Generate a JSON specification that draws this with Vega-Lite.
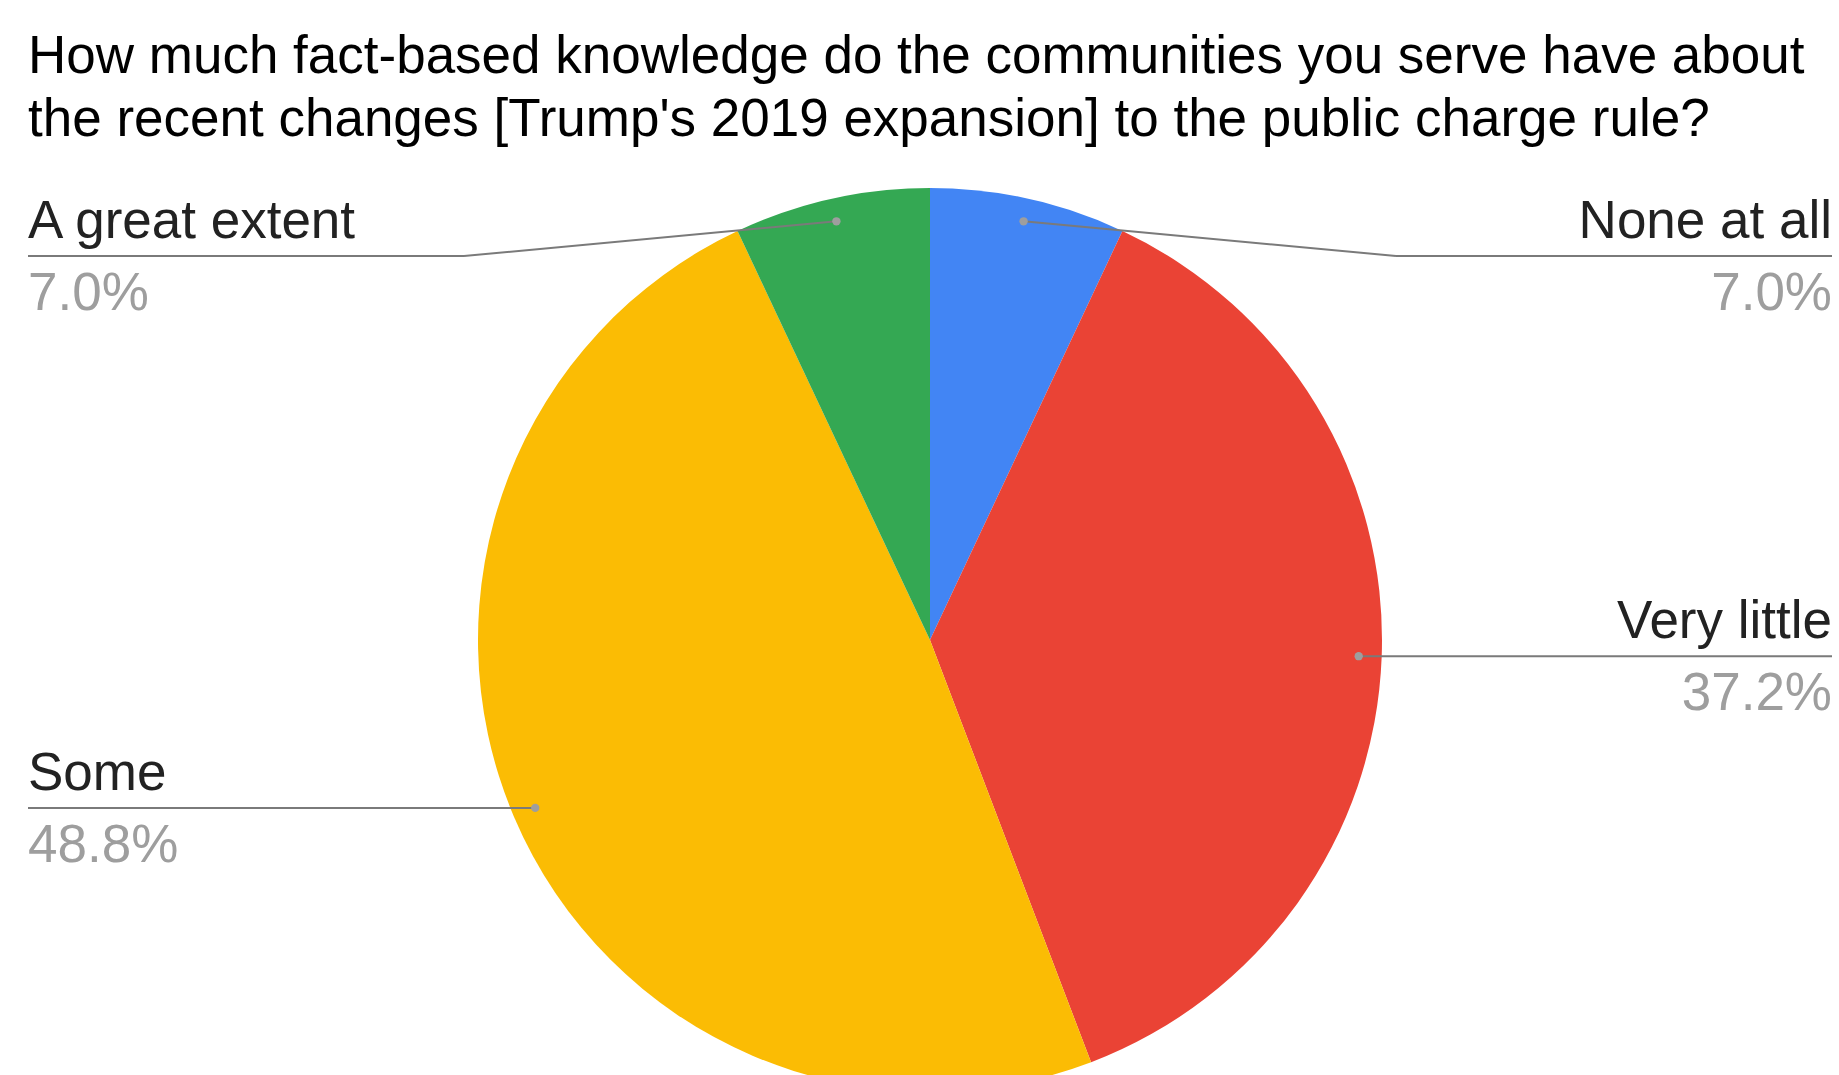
{
  "$schema": "https://vega.github.io/schema/vega-lite/v6.json",
  "width": 1804,
  "height": 980,
  "autosize": {"type": "none"},
  "padding": {"left": 28, "top": 150, "right": 7, "bottom": 0},
  "background": "white",
  "config": {"view": {"stroke": null}, "font": "Liberation Sans"},
  "title": {
    "text": ["How much fact-based knowledge do the communities you serve have about", "the recent changes [Trump's 2019 expansion] to the public charge rule?"],
    "anchor": "start",
    "frame": "group",
    "fontSize": 53,
    "fontWeight": "normal",
    "font": "Liberation Sans",
    "color": "#000000",
    "lineHeight": 63,
    "baseline": "alphabetic",
    "offset": 80,
    "dy": 119
  },
  "data": {
    "values": [
      {"category": "None at all", "value": 7.0},
      {"category": "Very little", "value": 37.2},
      {"category": "Some", "value": 48.8},
      {"category": "A great extent", "value": 7.0}
    ]
  },
  "transform": [
    {"window": [{"op": "row_number", "as": "rank"}]},
    {"joinaggregate": [{"op": "sum", "field": "value", "as": "total"}]},
    {"window": [{"op": "sum", "field": "value", "as": "cum"}], "sort": [{"field": "rank"}], "frame": [null, 0]},
    {"calculate": "2*PI*(datum.cum - datum.value/2)/datum.total", "as": "mid"},
    {"calculate": "429*sin(datum.mid)", "as": "dotX"},
    {"calculate": "-429*cos(datum.mid)", "as": "dotY"},
    {"calculate": "datum.dotX >= 0 ? 1 : -1", "as": "side"},
    {"calculate": "max(datum.dotY, -384)", "as": "lineY"},
    {"calculate": "466*datum.side", "as": "bendX"},
    {"calculate": "902*datum.side", "as": "edgeX"},
    {"calculate": "format(datum.value, '.1f') + '%'", "as": "pct"}
  ],
  "layer": [
    {
      "mark": {"type": "arc", "outerRadius": 452},
      "encoding": {
        "theta": {"field": "value", "type": "quantitative", "stack": true},
        "color": {
          "field": "category",
          "type": "nominal",
          "scale": {"domain": ["None at all", "Very little", "Some", "A great extent"], "range": ["#4285F4", "#EA4335", "#FBBC04", "#34A853"]},
          "legend": null
        },
        "order": {"field": "rank", "type": "quantitative"}
      }
    },
    {
      "mark": {"type": "rule", "color": "#7a7a7a", "strokeWidth": 2},
      "encoding": {
        "x": {"field": "dotX", "type": "quantitative", "scale": {"domain": [-902, 902], "nice": false, "zero": false}, "axis": null},
        "y": {"field": "dotY", "type": "quantitative", "scale": {"domain": [-490, 490], "nice": false, "zero": false, "reverse": true}, "axis": null},
        "x2": {"field": "bendX"},
        "y2": {"field": "lineY"}
      }
    },
    {
      "mark": {"type": "rule", "color": "#7a7a7a", "strokeWidth": 2},
      "encoding": {
        "x": {"field": "bendX", "type": "quantitative"},
        "y": {"field": "lineY", "type": "quantitative"},
        "x2": {"field": "edgeX"}
      }
    },
    {
      "mark": {"type": "point", "filled": true, "size": 70, "color": "#9e9e9e", "opacity": 1},
      "encoding": {
        "x": {"field": "dotX", "type": "quantitative"},
        "y": {"field": "dotY", "type": "quantitative"}
      }
    },
    {
      "transform": [{"filter": "datum.side < 0"}],
      "mark": {"type": "text", "align": "left", "baseline": "alphabetic", "dy": -18, "fontSize": 53, "color": "#222222"},
      "encoding": {
        "x": {"field": "edgeX", "type": "quantitative"},
        "y": {"field": "lineY", "type": "quantitative"},
        "text": {"field": "category"}
      }
    },
    {
      "transform": [{"filter": "datum.side > 0"}],
      "mark": {"type": "text", "align": "right", "baseline": "alphabetic", "dy": -18, "fontSize": 53, "color": "#222222"},
      "encoding": {
        "x": {"field": "edgeX", "type": "quantitative"},
        "y": {"field": "lineY", "type": "quantitative"},
        "text": {"field": "category"}
      }
    },
    {
      "transform": [{"filter": "datum.side < 0"}],
      "mark": {"type": "text", "align": "left", "baseline": "alphabetic", "dy": 54, "fontSize": 53, "color": "#9e9e9e"},
      "encoding": {
        "x": {"field": "edgeX", "type": "quantitative"},
        "y": {"field": "lineY", "type": "quantitative"},
        "text": {"field": "pct"}
      }
    },
    {
      "transform": [{"filter": "datum.side > 0"}],
      "mark": {"type": "text", "align": "right", "baseline": "alphabetic", "dy": 54, "fontSize": 53, "color": "#9e9e9e"},
      "encoding": {
        "x": {"field": "edgeX", "type": "quantitative"},
        "y": {"field": "lineY", "type": "quantitative"},
        "text": {"field": "pct"}
      }
    }
  ]
}
